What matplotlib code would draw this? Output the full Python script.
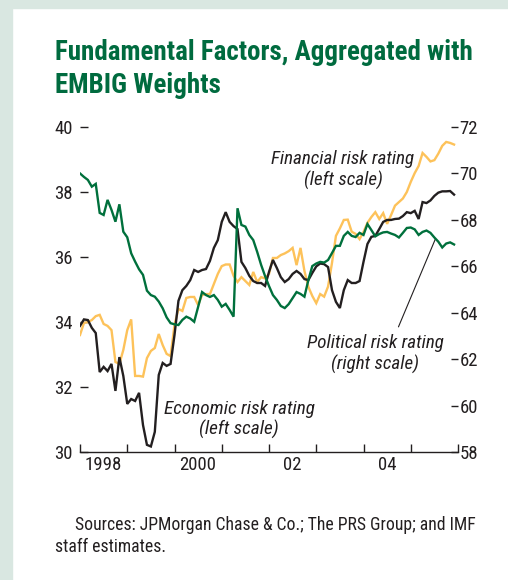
import matplotlib
matplotlib.use('Agg')
import matplotlib.pyplot as plt
from matplotlib import font_manager as fm
import numpy as np

# ---------------- data ----------------
start_year = 1998
n_months = 96  # Jan 1998 - Dec 2005

economic = [33.88, 34.08, 34.06, 33.82, 33.66, 32.46, 32.62, 32.49, 32.71, 31.88,
            32.92, 32.34, 31.48, 31.63, 31.57, 31.82, 30.83, 30.22, 30.17, 30.62,
            32.37, 32.74, 32.65, 32.71, 33.60, 34.65, 34.98, 35.11, 35.29, 35.60,
            35.54, 35.60, 35.63, 35.88, 36.28, 36.52, 37.08, 37.38, 37.08, 36.95,
            36.86, 35.85, 35.66, 35.42, 35.26, 35.20, 35.20, 35.11, 35.54, 35.91,
            35.66, 35.38, 35.23, 35.32, 35.48, 35.57, 35.48, 35.32, 35.29, 35.51,
            35.71, 35.80, 35.78, 35.69, 34.98, 34.62, 34.43, 34.98, 35.29, 35.20,
            35.20, 35.26, 35.85, 36.40, 36.62, 36.65, 36.86, 37.08, 37.14, 37.14,
            37.17, 37.18, 37.26, 37.38, 37.35, 37.42, 37.17, 37.69, 37.66, 37.74,
            37.88, 37.98, 38.02, 38.02, 38.03, 37.92]

financial = [33.60, 33.97, 34.00, 34.06, 34.18, 34.22, 33.94, 33.88, 33.75, 32.77,
             32.71, 33.14, 33.75, 34.08, 32.34, 32.34, 32.32, 32.89, 33.11, 33.20,
             33.63, 33.29, 33.02, 32.95, 33.91, 34.40, 34.34, 34.74, 34.77, 34.77,
             34.52, 34.83, 34.86, 34.86, 35.17, 35.48, 35.72, 35.77, 35.77, 35.42,
             35.23, 35.38, 35.26, 35.14, 35.54, 35.23, 35.38, 35.34, 35.48, 35.97,
             35.97, 36.06, 36.11, 36.18, 36.28, 35.75, 36.28, 35.57, 35.08, 34.80,
             34.58, 34.86, 34.78, 35.09, 35.82, 36.65, 36.88, 37.14, 37.15, 36.78,
             36.71, 36.55, 36.77, 37.05, 37.23, 37.38, 37.17, 37.35, 37.02, 37.29,
             37.58, 37.69, 37.80, 38.00, 38.31, 38.58, 38.80, 39.20, 39.08, 38.94,
             38.98, 39.18, 39.42, 39.54, 39.51, 39.46]

political = [70.00, 69.85, 69.72, 69.43, 69.55, 68.30, 68.21, 68.86, 68.43, 67.92,
             68.67, 67.49, 67.25, 66.56, 66.20, 65.87, 65.63, 64.95, 64.76, 64.69,
             64.48, 64.19, 63.80, 63.55, 63.50, 63.47, 63.69, 63.83, 63.75, 63.61,
             64.25, 64.89, 64.76, 64.68, 64.76, 64.55, 64.26, 64.38, 64.12, 63.83,
             68.50, 67.78, 67.71, 67.35, 67.13, 66.62, 66.06, 65.58, 65.15, 64.76,
             64.55, 64.29, 64.20, 64.37, 64.63, 64.89, 64.81, 64.69, 65.41, 66.01,
             66.12, 66.19, 66.16, 66.27, 66.57, 66.88, 66.88, 67.31, 67.48, 67.31,
             67.26, 67.44, 67.35, 67.82, 67.56, 67.29, 67.39, 67.46, 67.48, 67.41,
             67.35, 67.24, 67.44, 67.65, 67.67, 67.59, 67.35, 67.48, 67.54, 67.44,
             67.24, 67.06, 66.81, 66.98, 67.03, 66.94]

left_ticks = [30, 32, 34, 36, 38, 40]
right_ticks = [58, 60, 62, 64, 66, 68, 70, 72]
year_ticks = list(range(1998, 2007))
year_label_pos = [1998.5, 2000.5, 2002.5, 2004.5]
year_labels = ['1998', '2000', '02', '04']

title_lines = ['Fundamental Factors, Aggregated with', 'EMBIG Weights']
source_lines = ['Sources: JPMorgan Chase & Co.; The PRS Group; and IMF', 'staff estimates.']

# ---------------- fonts ----------------
installed = set(f.name for f in fm.fontManager.ttflist)
FAM = 'DejaVu Sans'
for cand in ['Nimbus Sans Narrow', 'Liberation Sans Narrow', 'Arial Narrow', 'Roboto Condensed',
             'Archivo Narrow', 'Barlow Semi Condensed', 'Asap Condensed', 'Liberation Sans']:
    if cand in installed:
        FAM = cand
        break
plt.rcParams['font.family'] = [FAM, 'DejaVu Sans']

# ---------------- colours ----------------
C_BLACK = '#231f20'
C_GOLD = '#fdc25a'
C_GREEN = '#00703c'
C_TITLE = '#006b3f'
C_BORDER = '#d9e7e1'

W, H = 508, 580
fig = plt.figure(figsize=(W / 100, H / 100), dpi=100)
fig.patch.set_facecolor('white')
renderer = fig.canvas.get_renderer()

def fx(px):
    return px / W

def fy(py):
    return 1 - py / H

# border bands
fig.patches.append(plt.Rectangle((0, 0), fx(12), 1, transform=fig.transFigure,
                                 color=C_BORDER, zorder=0))
fig.patches.append(plt.Rectangle((0, fy(8)), 1, 1 - fy(8), transform=fig.transFigure,
                                 color=C_BORDER, zorder=0))

ax_left, ax_right, ax_top, ax_bot = 80, 458, 127, 452
ax = fig.add_axes([fx(ax_left), fy(ax_bot), fx(ax_right - ax_left), fy(ax_top) - fy(ax_bot)])
ax.patch.set_alpha(0)

t = start_year + np.arange(n_months) / 12.0

ax.plot(t, financial, color=C_GOLD, lw=1.7, solid_joinstyle='miter', zorder=2)
ax.plot(t, economic, color=C_BLACK, lw=1.7, solid_joinstyle='miter', zorder=3)

ax.set_xlim(1998, 2006)
ax.set_ylim(30, 40)

for s in ['top', 'left', 'right']:
    ax.spines[s].set_visible(False)
ax.spines['bottom'].set_linewidth(1.0)
ax.spines['bottom'].set_color(C_BLACK)

TICK_FS = 13.5
ax.set_xticks(year_ticks)
ax.set_xticklabels([])
ax.tick_params(axis='x', which='major', direction='in', length=6, width=1.0, color=C_BLACK)
ax.set_xticks(year_label_pos, minor=True)
ax.set_xticklabels(year_labels, minor=True)
ax.tick_params(axis='x', which='minor', length=0, pad=3, labelsize=TICK_FS, labelcolor=C_BLACK)

ax.set_yticks(left_ticks)
ax.tick_params(axis='y', which='major', direction='in', length=6, width=1.0, color=C_BLACK,
               pad=5, labelsize=TICK_FS, labelcolor=C_BLACK)

ax2 = ax.twinx()
ax2.plot(t, political, color=C_GREEN, lw=1.7, solid_joinstyle='miter', zorder=4)
ax2.set_ylim(58, 72)
for s in ['top', 'left', 'right', 'bottom']:
    ax2.spines[s].set_visible(False)
ax2.set_yticks(right_ticks)
ax2.tick_params(axis='y', which='major', direction='in', length=5, width=1.0, color=C_BLACK,
                pad=1, labelsize=TICK_FS, labelcolor=C_BLACK)

# ---------------- texts ----------------
def ptext(px, py, s, **kw):
    return fig.text(fx(px), fy(py), s, va='baseline', **kw)

def fit(texts, target_px, base):
    """scale font size so that the first text spans target_px pixels"""
    w = texts[0].get_window_extent(renderer).width
    size = base * target_px / w
    for tx in texts:
        tx.set_fontsize(size)

ann_kw = dict(ha='center', fontsize=13, style='italic', color=C_BLACK)
fin = [ptext(343, 164, 'Financial risk rating', **ann_kw),
       ptext(343, 186, '(left scale)', **ann_kw)]
pol = [ptext(375, 348.5, 'Political risk rating', **ann_kw),
       ptext(375, 370, '(right scale)', **ann_kw)]
eco = [ptext(239, 413.5, 'Economic risk rating', **ann_kw),
       ptext(239, 435, '(left scale)', **ann_kw)]
fit(fin, 143, 13)
fit(pol, 136, 13)
fit(eco, 151, 13)

# leader line for the political rating label
ax.annotate('', xy=(2005.52, 36.55), xytext=(2004.74, 33.85),
            arrowprops=dict(arrowstyle='-', lw=0.8, color=C_BLACK, shrinkA=0, shrinkB=0))

# title
tt = [ptext(55, 60, title_lines[0], ha='left', fontsize=17, fontweight='bold', color=C_TITLE),
      ptext(55, 93.3, title_lines[1], ha='left', fontsize=17, fontweight='bold', color=C_TITLE)]
fit(tt, 418, 17)

# sources
src = [ptext(75, 530, source_lines[0], ha='left', fontsize=11.6, color=C_BLACK),
       ptext(55, 551.7, source_lines[1], ha='left', fontsize=11.6, color=C_BLACK)]
fit(src, 398, 11.6)

fig.savefig('out.png', dpi=100)
